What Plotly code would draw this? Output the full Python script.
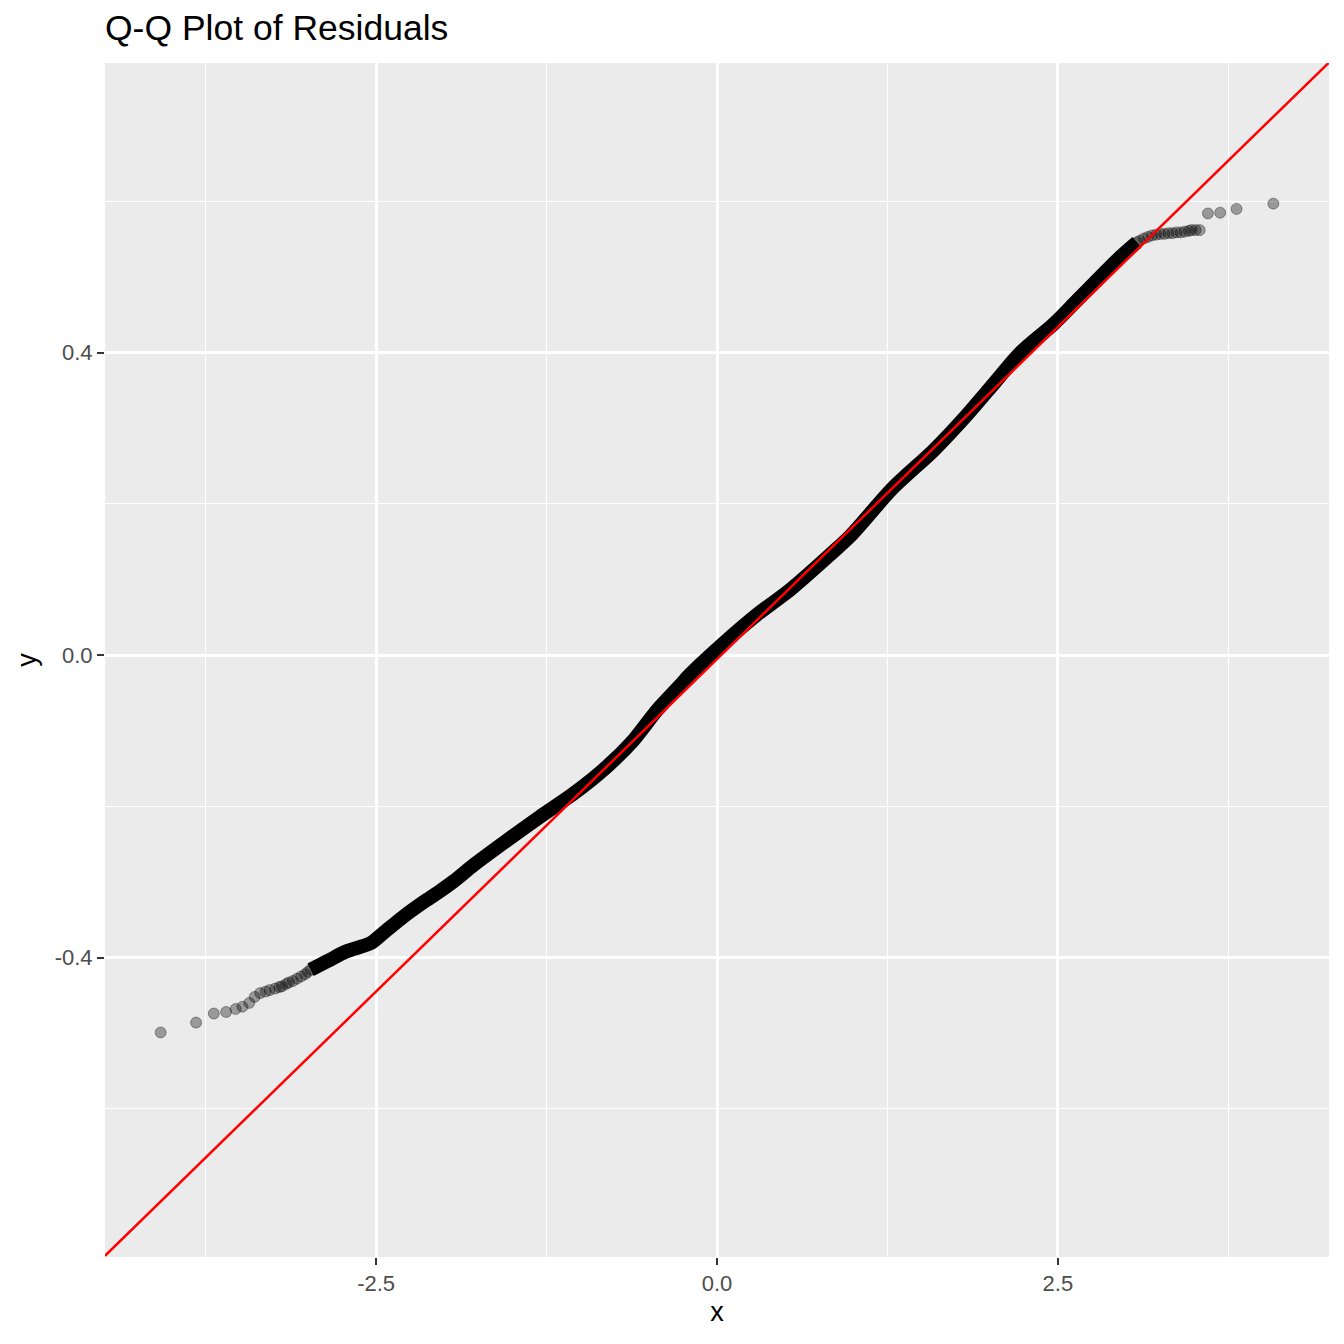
import plotly.graph_objects as go

# sample quantiles, in three stretches
low_tail_x = [-4.08, -3.82, -3.69, -3.60, -3.53, -3.48, -3.43, -3.39, -3.35, -3.31,
              -3.28, -3.24, -3.21, -3.19, -3.16, -3.14, -3.11, -3.08, -3.05, -3.02, -3.00]
low_tail_y = [-0.499, -0.486, -0.474, -0.472, -0.468, -0.465, -0.460, -0.452, -0.447, -0.445,
              -0.443, -0.441, -0.439, -0.438, -0.435, -0.433, -0.431, -0.428, -0.425, -0.422, -0.419]

band_x = [-2.98, -2.86, -2.72, -2.54, -2.45, -2.30, -2.13, -2.03, -1.93, -1.78,
          -1.54, -1.30, -1.05, -0.81, -0.61, -0.44, -0.27, -0.20, 0.05, 0.29,
          0.54, 0.83, 0.98, 1.29, 1.59, 1.83, 2.03, 2.22, 2.47, 2.64,
          2.81, 2.96, 3.08]
band_y = [-0.416, -0.405, -0.392, -0.381, -0.368, -0.346, -0.324, -0.312, -0.299, -0.277,
          -0.245, -0.214, -0.183, -0.148, -0.112, -0.073, -0.040, -0.026, 0.016, 0.053,
          0.087, 0.133, 0.158, 0.221, 0.271, 0.317, 0.359, 0.399, 0.438, 0.469,
          0.500, 0.527, 0.546]

high_tail_x = [3.10, 3.13, 3.16, 3.19, 3.22, 3.25, 3.28, 3.31, 3.34, 3.37,
               3.40, 3.43, 3.46, 3.48, 3.51, 3.54, 3.60, 3.69, 3.81, 4.08]
high_tail_y = [0.548, 0.551, 0.553, 0.555, 0.556, 0.557, 0.557, 0.558, 0.558, 0.559,
               0.559, 0.560, 0.561, 0.562, 0.562, 0.562, 0.584, 0.585, 0.590, 0.597]

# reference line
line_slope = 0.1758
line_intercept = -0.0054

x_ticks = [-2.5, 0.0, 2.5]
x_tick_labels = ["-2.5", "0.0", "2.5"]
y_ticks = [-0.4, 0.0, 0.4]
y_tick_labels = ["-0.4", "0.0", "0.4"]

x_range = [-4.488, 4.488]
y_range = [-0.796, 0.783]

all_x = low_tail_x + band_x + high_tail_x
all_y = low_tail_y + band_y + high_tail_y

fig = go.Figure()

# the dense middle, where thousands of points overlap to solid black
fig.add_trace(
    go.Scatter(
        x=band_x,
        y=band_y,
        mode="lines",
        line=dict(color="black", width=14, shape="spline", smoothing=0.8),
        hoverinfo="skip",
    )
)
fig.add_trace(
    go.Scatter(
        x=all_x,
        y=all_y,
        mode="markers",
        marker=dict(
            size=11,
            color="rgba(0,0,0,0.35)",
            line=dict(color="rgba(0,0,0,0.35)", width=1),
        ),
    )
)
fig.add_trace(
    go.Scatter(
        x=x_range,
        y=[line_intercept + line_slope * v for v in x_range],
        mode="lines",
        line=dict(color="#FF0000", width=2.5),
    )
)

axis_common = dict(
    showgrid=True,
    gridcolor="white",
    gridwidth=2.7,
    zeroline=False,
    showline=False,
    ticks="outside",
    ticklen=7,
    tickwidth=2,
    tickcolor="#333333",
    tickfont=dict(family="Liberation Sans", size=22, color="#4d4d4d"),
)

fig.update_layout(
    width=1336,
    height=1336,
    showlegend=False,
    paper_bgcolor="white",
    plot_bgcolor="#EBEBEB",
    margin=dict(l=97, r=15, t=55, b=87),
    title=dict(
        text="Q-Q Plot of Residuals",
        x=97 / 1336,
        xanchor="left",
        y=1 - 20 / 1336,
        yanchor="middle",
        font=dict(family="Liberation Sans", size=35.5, color="black"),
    ),
    xaxis=dict(
        axis_common,
        range=x_range,
        tickvals=x_ticks,
        ticktext=x_tick_labels,
        minor=dict(dtick=1.25, tick0=-3.75, showgrid=True, gridcolor="white", gridwidth=1.3),
        title=dict(text="x", font=dict(family="Liberation Sans", size=27, color="black"), standoff=6),
    ),
    yaxis=dict(
        axis_common,
        range=y_range,
        tickvals=y_ticks,
        ticktext=y_tick_labels,
        minor=dict(dtick=0.4, tick0=-0.6, showgrid=True, gridcolor="white", gridwidth=1.3),
        title=dict(text="y", font=dict(family="Liberation Sans", size=27, color="black"), standoff=10),
    ),
)

fig.write_html("out.html")
